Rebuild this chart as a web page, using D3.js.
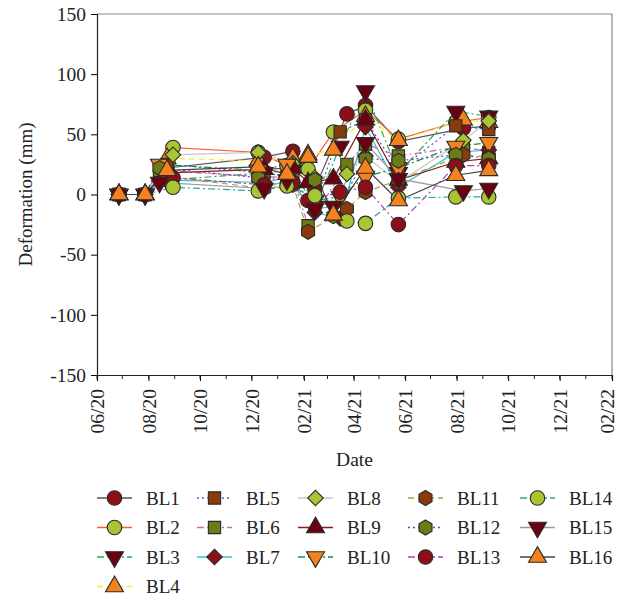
<!DOCTYPE html>
<html>
<head>
<meta charset="utf-8">
<script src="https://cdn.jsdelivr.net/npm/d3@7"></script>
<style>
  body { margin: 0; background: #fff; }
  svg text { font-family: "Liberation Serif", "DejaVu Serif", serif; fill: #222; }
</style>
</head>
<body>
<div id="chart"></div>
<script>
// survey dates (every series only uses some of them)
const dates = ["2020-06-27", "2020-07-28", "2020-08-14", "2020-08-23", "2020-08-30",
  "2020-12-09", "2020-12-16", "2021-01-12", "2021-01-19", "2021-02-06", "2021-02-14",
  "2021-03-08", "2021-03-16", "2021-03-24", "2021-04-15", "2021-05-24",
  "2021-07-31", "2021-08-09", "2021-09-08"];

const names = ["BL1", "BL2", "BL3", "BL4", "BL5", "BL6", "BL7", "BL8",
  "BL9", "BL10", "BL11", "BL12", "BL13", "BL14", "BL15", "BL16"];

const n = null;
const bl1  = [0, 0, n, 22, n, n, 31, n, 36, n, 5, n, n, 67, 74, 44, n, 55, 57];
const bl2  = [0, 0, n, n, 39, 35, n, 24, n, 21, n, 52, n, n, 70, 46, 60, n, 64];
const bl3  = [0, 0, n, 12, n, n, 18, n, 20, n, -10, n, 40, n, 86, 18, 69, n, 65];
const bl4  = [0, 0, n, 30, n, 28, n, n, 30, 33, n, 37, n, n, 65, 45, n, 62, 60];
const bl5  = [0, 0, n, 25, n, n, 18, 15, n, n, -8, n, 52, n, 62, 20, 57, n, 54];
const bl6  = [0, 0, 20, n, n, 15, n, n, 14, -26, n, n, n, 25, 42, 32, n, 40, 35];
const bl7  = [0, 0, n, 12, n, n, 10, 14, n, n, -15, n, -20, n, 56, 6, 35, n, 37];
const bl8  = [0, 0, n, n, 33, 35, n, n, 26, n, 14, n, n, 17, 32, 10, n, 45, 61];
const bl9  = [0, 0, n, 18, n, n, 21, n, 22, 10, n, 13, n, n, 62, 12, 27, n, 30];
const bl10 = [0, 0, 25, n, n, 20, n, 25, n, n, -5, n, -2, n, 15, 22, 40, n, 43];
const bl11 = [0, 0, n, 15, n, n, 5, n, 8, -31, n, n, n, -12, 2, 12, n, 33, 31];
const bl12 = [0, 0, 22, n, n, 14, n, 12, n, n, 12, -18, n, n, 30, 28, 33, n, 30];
const bl13 = [0, 0, n, n, 14, n, 8, n, 10, -5, n, n, 2, n, 6, -25, 24, n, 24];
const bl14 = [0, 0, n, n, 6, 3, n, 7, n, n, -1, n, n, -22, -24, -3, -2, n, -2];
const bl15 = [0, 0, 10, n, n, n, 5, 12, n, n, -12, -10, n, n, 43, 13, n, 3, 5];
const bl16 = [0, 0, n, 20, n, 23, n, 17, n, 31, n, -17, n, n, 22, -5, 16, n, 20];
const values = [bl1, bl2, bl3, bl4, bl5, bl6, bl7, bl8, bl9, bl10, bl11, bl12, bl13, bl14, bl15, bl16];

const yTicks = [-150, -100, -50, 0, 50, 100, 150];
const xTickLabels = ["06/20", "08/20", "10/20", "12/20", "02/21", "04/21", "06/21",
  "08/21", "10/21", "12/21", "02/22"];

// look of each series: line colour, dash, marker shape, marker fill
const lineColors = ["#555", "#ff5a36", "#2aa84a", "#f2ee2a", "#5858c8", "#d267b8", "#36c4c4", "#c8c8c8",
  "#8b1a1a", "#119044", "#a4a444", "#5050c0", "#a245a8", "#2fa3a0", "#9a9a9a", "#444"];
const dashes = ["", "", "7,3,2,3", "6,4", "2,3", "7,3,2,3", "", "",
  "", "7,3,2,3", "6,4", "2,3", "7,3,2,3", "7,3,2,3", "", ""];
const shapes = ["circle", "circle", "down", "up", "square", "square", "diamond", "diamond",
  "up", "down", "hex", "hex", "circle", "circle", "down", "up"];
const red = "#8c0f18", lime = "#a9c531", darkRed = "#6a0010", orange = "#f5821f",
  brown = "#8a3b0b", olive = "#6e7a15";
const fills = [red, lime, darkRed, orange, brown, olive, red, lime,
  darkRed, orange, brown, olive, red, lime, darkRed, orange];

const width = 618, height = 597;
const margin = { left: 97, right: 6, top: 14, bottom: 222 };
const serif = "'Liberation Serif', 'DejaVu Serif', serif";

const svg = d3.select("#chart").append("svg")
  .attr("width", width).attr("height", height);

const x = d3.scaleTime()
  .domain([new Date(2020, 5, 1), new Date(2022, 1, 1)])
  .range([margin.left, width - margin.right]);
const y = d3.scaleLinear()
  .domain([-150, 150])
  .range([height - margin.bottom, margin.top]);

const parse = d3.timeParse("%Y-%m-%d");
const tickParse = d3.timeParse("%m/%y");
const series = names.map((name, i) => ({
  name, i,
  points: dates.map((d, j) => ({ date: parse(d), v: values[i][j] })).filter(p => p.v !== null)
}));

function symbolPath(shape) {
  if (shape === "hex") {
    const r = 7.5;
    const pts = d3.range(6).map(k => {
      const a = Math.PI / 3 * k - Math.PI / 2;
      return [r * Math.cos(a), r * Math.sin(a)];
    });
    return "M" + pts.join("L") + "Z";
  }
  const types = { circle: d3.symbolCircle, square: d3.symbolSquare, diamond: d3.symbolSquare,
    up: d3.symbolTriangle, down: d3.symbolTriangle };
  const sizes = { circle: 165, square: 150, diamond: 120, up: 140, down: 140 };
  return d3.symbol().type(types[shape]).size(sizes[shape])();
}
function symbolRotate(shape) {
  if (shape === "down") return " rotate(180)";
  if (shape === "diamond") return " rotate(45)";
  return "";
}

// frame: light top/right, dark left/bottom
svg.append("path")
  .attr("d", `M${x.range()[0]},${y(150)}H${x.range()[1]}V${y(-150)}`)
  .attr("fill", "none").attr("stroke", "#888").attr("stroke-width", 1.2);

const yAxis = svg.append("g")
  .attr("transform", `translate(${margin.left},0)`)
  .attr("font-family", serif)
  .call(d3.axisLeft(y).tickValues(yTicks).tickSize(6).tickPadding(5).tickFormat(d => String(d)));
yAxis.selectAll("text").style("font-size", "19.5px");
yAxis.select(".domain").attr("stroke", "#222").attr("stroke-width", 1.2);

const xAxis = svg.append("g")
  .attr("transform", `translate(0,${y(-150)})`)
  .attr("font-family", serif)
  .call(d3.axisBottom(x).tickValues(xTickLabels.map(tickParse)).tickSize(6)
    .tickFormat(d3.timeFormat("%m/%y")));
xAxis.select(".domain").attr("stroke", "#222").attr("stroke-width", 1.2);
xAxis.selectAll("text")
  .style("font-size", "19.5px")
  .attr("text-anchor", "end")
  .attr("transform", "rotate(-90)")
  .attr("x", -14).attr("y", 0)
  .attr("dy", (d, i, nodes) => i === nodes.length - 1 ? "0.1em" : "0.35em");

// monthly minor ticks
svg.append("g").selectAll("line")
  .data(x.ticks(d3.timeMonth.every(1)))
  .join("line")
  .attr("x1", d => x(d)).attr("x2", d => x(d))
  .attr("y1", y(-150)).attr("y2", y(-150) + 4)
  .attr("stroke", "#222");

svg.append("text")
  .attr("transform", `translate(25,${(y(150) + y(-150)) / 2}) rotate(-90)`)
  .attr("text-anchor", "middle").attr("dy", "0.35em")
  .style("font-size", "19px")
  .text("Deformation (mm)");

svg.append("text")
  .attr("x", (x.range()[0] + x.range()[1]) / 2).attr("y", 466)
  .attr("text-anchor", "middle")
  .style("font-size", "19.5px")
  .text("Date");

const line = d3.line().x(d => x(d.date)).y(d => y(d.v));

const plot = svg.append("g");
plot.selectAll("path.series")
  .data(series)
  .join("path")
  .attr("class", "series")
  .attr("d", d => line(d.points))
  .attr("fill", "none")
  .attr("stroke", d => lineColors[d.i])
  .attr("stroke-width", 1.2)
  .attr("stroke-dasharray", d => dashes[d.i]);

series.forEach(s => {
  plot.append("g").selectAll("path")
    .data(s.points)
    .join("path")
    .attr("d", symbolPath(shapes[s.i]))
    .attr("transform", p => `translate(${x(p.date)},${y(p.v)})` + symbolRotate(shapes[s.i]))
    .attr("fill", fills[s.i])
    .attr("stroke", "#2a2a2a")
    .attr("stroke-width", 1.1);
});

// legend: 5 columns filled top to bottom
const legendCols = [97, 197, 298, 408, 520];
const rowsPerCol = [4, 3, 3, 3, 3];
const legendItems = [];
let k = 0;
rowsPerCol.forEach((rows, c) => {
  for (let r = 0; r < rows; r++) legendItems.push({ i: k++, c, r });
});

const legend = svg.append("g");
const item = legend.selectAll("g")
  .data(legendItems)
  .join("g")
  .attr("transform", d => `translate(${legendCols[d.c]},${498 + d.r * 29.5})`);
item.append("line")
  .attr("x1", 0).attr("x2", 35)
  .attr("stroke", d => lineColors[d.i])
  .attr("stroke-width", 1.6)
  .attr("stroke-dasharray", d => dashes[d.i]);
item.append("path")
  .attr("d", d => symbolPath(shapes[d.i]))
  .attr("transform", d => "translate(17.5,0)" + symbolRotate(shapes[d.i]))
  .attr("fill", d => fills[d.i])
  .attr("stroke", "#2a2a2a")
  .attr("stroke-width", 1.1);
item.append("text")
  .attr("x", 49).attr("dy", "0.35em")
  .style("font-size", "19px")
  .text(d => names[d.i]);
</script>
</body>
</html>
